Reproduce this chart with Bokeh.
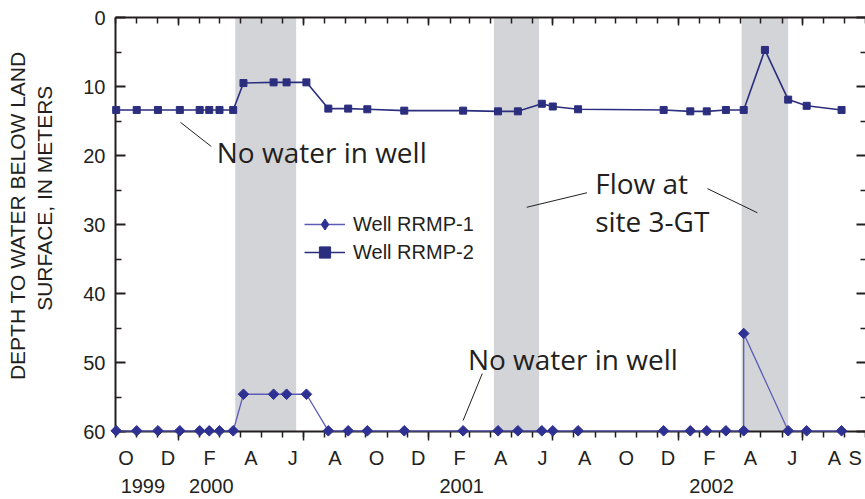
import math
import pandas as pd
from bokeh.plotting import figure
from bokeh.models import Range1d, LinearAxis, FixedTicker, Legend, LegendItem, Label
from bokeh.embed import file_html
from bokeh.resources import INLINE

# --- data -------------------------------------------------------------
dates_rrmp2 = ["1999-10-02", "1999-11-01", "1999-12-02", "2000-01-03", "2000-02-01",
               "2000-02-15", "2000-03-01", "2000-03-21", "2000-04-05", "2000-05-19",
               "2000-06-07", "2000-07-06", "2000-08-07", "2000-09-05", "2000-10-03",
               "2000-11-26", "2001-02-20", "2001-04-12", "2001-05-11", "2001-06-15",
               "2001-07-01", "2001-08-07", "2001-12-10", "2002-01-18", "2002-02-11",
               "2002-03-11", "2002-04-06", "2002-05-07", "2002-06-10", "2002-07-07",
               "2002-08-27"]
depth_rrmp2 = [13.4, 13.4, 13.4, 13.4, 13.4, 13.4, 13.4, 13.4, 9.5, 9.4,
               9.4, 9.4, 13.2, 13.2, 13.3, 13.5, 13.5, 13.6, 13.6, 12.5,
               12.9, 13.3, 13.4, 13.6, 13.6, 13.4, 13.4, 4.7, 11.9, 12.8,
               13.4]

dates_rrmp1 = ["1999-10-02", "1999-11-01", "1999-12-02", "2000-01-03", "2000-02-01",
               "2000-02-15", "2000-03-01", "2000-03-21", "2000-04-05", "2000-05-19",
               "2000-06-07", "2000-07-06", "2000-08-07", "2000-09-05", "2000-10-03",
               "2000-11-26", "2001-02-20", "2001-04-12", "2001-05-11", "2001-06-15",
               "2001-07-01", "2001-08-07", "2001-12-10", "2002-01-18", "2002-02-11",
               "2002-03-11", "2002-04-06", "2002-04-06", "2002-06-10", "2002-07-07",
               "2002-08-27"]
depth_rrmp1 = [59.9, 59.9, 59.9, 59.9, 59.9, 59.9, 59.9, 59.9, 54.6, 54.6,
               54.6, 54.6, 59.9, 59.9, 59.9, 59.9, 59.9, 59.9, 59.9, 59.9,
               59.9, 59.9, 59.9, 59.9, 59.9, 59.9, 59.9, 45.8, 59.9, 59.9,
               59.9]

# periods of flow at site 3-GT
flow_start = ["2000-03-24", "2001-04-06", "2002-04-03"]
flow_end = ["2000-06-21", "2001-06-11", "2002-06-10"]

# axis labels
month_label_months = ["1999-10", "1999-12", "2000-02", "2000-04", "2000-06", "2000-08",
                      "2000-10", "2000-12", "2001-02", "2001-04", "2001-06", "2001-08",
                      "2001-10", "2001-12", "2002-02", "2002-04", "2002-06", "2002-08",
                      "2002-09"]
month_letters = ["O", "D", "F", "A", "J", "A", "O", "D", "F", "A", "J", "A",
                 "O", "D", "F", "A", "J", "A", "S"]
year_label_dates = ["1999-11-10", "2000-02-18", "2001-02-18", "2002-02-18"]
year_labels = ["1999", "2000", "2001", "2002"]
depth_ticks = [0, 10, 20, 30, 40, 50, 60]
depth_minor = [5, 15, 25, 35, 45, 55]
depth_title = ["DEPTH TO WATER BELOW LAND", "SURFACE, IN METERS"]


def ms(d):
    return pd.Timestamp(d).value / 1e6


INK = "#231f20"
NAVY = "#2b2e7e"
BLUE = "#2e3192"
BLUE_LINE = "#5c5cb8"
BAND = "#d3d4d7"

x0, x1 = ms("1999-10-01"), ms("2002-10-01")
month_starts = [ms(d) for d in pd.date_range("1999-10-01", "2002-10-01", freq="MS")]
half_year = [ms(d) for d in pd.date_range("1999-10-01", "2002-10-01", freq="MS")
             if pd.Timestamp(d).month in (1, 7)]

p = figure(width=865, height=499, x_range=Range1d(x0, x1), y_range=Range1d(60, 0),
           x_axis_type=None, y_axis_type=None, output_backend="svg",
           toolbar_location=None, min_border_left=115, min_border_right=0,
           min_border_top=17, min_border_bottom=68)
p.outline_line_color = None
p.background_fill_color = "white"
p.border_fill_color = "white"

# shaded flow periods
p.quad(left=[ms(d) for d in flow_start], right=[ms(d) for d in flow_end],
       bottom=60, top=0, fill_color=BAND, line_color=None)

# leader lines for the notes
p.segment(x0=[ms("2000-01-04"), ms("2001-03-20"), ms("2001-05-24"), ms("2002-02-12")],
          y0=[15.2, 51.6, 27.5, 24.8],
          x1=[ms("2000-02-18"), ms("2001-02-20"), ms("2001-08-20"), ms("2002-04-26")],
          y1=[18.7, 58.4, 25.4, 28.3],
          line_color=INK, line_width=1)

# wells
x1w = [ms(d) for d in dates_rrmp1]
x2w = [ms(d) for d in dates_rrmp2]
l1 = p.line(x1w, depth_rrmp1, line_color=BLUE_LINE, line_width=1.3, level="annotation")
m1 = p.scatter(x1w, depth_rrmp1, marker="square", angle=math.pi / 4, size=7.5,
               fill_color=BLUE, line_color=BLUE, level="annotation")
l2 = p.line(x2w, depth_rrmp2, line_color=NAVY, line_width=1.6, level="annotation")
m2 = p.scatter(x2w, depth_rrmp2, marker="square", size=7,
               fill_color=NAVY, line_color=NAVY, level="annotation")
# diamond swatch for the legend entry (angles are not applied to legend swatches)
k1 = p.scatter(x=[float("nan")], y=[float("nan")], marker="diamond", size=12,
               fill_color=BLUE, line_color=BLUE)

# axes
font = "Liberation Sans"
# the two title lines sit slightly above the middle of the axis; non-breaking
# spaces in front of each line nudge it upward
NB = "\u00a0"
title_text = NB * 3 + depth_title[0] + "\n" + NB * 9 + depth_title[1]

yticker = FixedTicker(ticks=depth_ticks, minor_ticks=depth_minor)
yl = LinearAxis(ticker=yticker, axis_label=title_text,
                major_tick_in=10, major_tick_out=0, minor_tick_in=6, minor_tick_out=0,
                axis_line_width=2, major_tick_line_width=2, minor_tick_line_width=1.5,
                axis_line_color=INK, major_tick_line_color=INK, minor_tick_line_color=INK,
                major_label_text_font=font, major_label_text_font_size="20px",
                major_label_text_color=INK, major_label_standoff=10,
                axis_label_text_font=font, axis_label_text_font_size="21px",
                axis_label_text_font_style="normal", axis_label_text_color=INK,
                axis_label_standoff=24)
p.add_layout(yl, "left")

no_labels = dict(major_label_text_font_size="0px", major_label_text_color=None,
                 major_label_standoff=0)

yr = LinearAxis(ticker=yticker, major_tick_in=9, major_tick_out=0, minor_tick_in=5,
                minor_tick_out=0, axis_line_color=None, major_tick_line_width=2,
                minor_tick_line_width=1.5, major_tick_line_color=INK,
                minor_tick_line_color=INK, **no_labels)
p.add_layout(yr, "right")

xticker = FixedTicker(ticks=half_year, minor_ticks=month_starts)
xt = LinearAxis(ticker=xticker, major_tick_in=8, major_tick_out=0, minor_tick_in=6,
                minor_tick_out=0, axis_line_width=2, axis_line_color=INK,
                major_tick_line_width=1.5, minor_tick_line_width=1.5,
                major_tick_line_color=INK, minor_tick_line_color=INK, **no_labels)
p.add_layout(xt, "above")

xb = LinearAxis(ticker=xticker, major_tick_in=0, major_tick_out=9, minor_tick_in=0,
                minor_tick_out=6, axis_line_width=2, axis_line_color=INK,
                major_tick_line_width=1.5, minor_tick_line_width=1.5,
                major_tick_line_color=INK, minor_tick_line_color=INK, **no_labels)
p.add_layout(xb, "below")

# month letters centred within each month
mid = []
for m in month_label_months:
    a = pd.Timestamp(m + "-01")
    b = a + pd.offsets.MonthBegin(1)
    mid.append(ms(a + (b - a) / 2))
xm = LinearAxis(ticker=FixedTicker(ticks=mid, minor_ticks=[]),
                major_label_overrides={t: s for t, s in zip(mid, month_letters)},
                axis_line_color=None, major_tick_line_color=None,
                major_tick_in=0, major_tick_out=0,
                major_label_text_font=font, major_label_text_font_size="20px",
                major_label_text_color=INK, major_label_standoff=6)
p.add_layout(xm, "below")

yrs = [ms(d) for d in year_label_dates]
xy = LinearAxis(ticker=FixedTicker(ticks=yrs, minor_ticks=[]),
                major_label_overrides={t: s for t, s in zip(yrs, year_labels)},
                axis_line_color=None, major_tick_line_color=None,
                major_tick_in=0, major_tick_out=0,
                major_label_text_font=font, major_label_text_font_size="20px",
                major_label_text_color=INK, major_label_standoff=7)
p.add_layout(xy, "below")

# notes
note = dict(text_font="Open Sans", text_font_size="28px", text_color=INK,
            text_baseline="alphabetic", text_align="left")
p.add_layout(Label(x=ms("2000-02-26"), y=19.55, text="No water in well", **note))
p.add_layout(Label(x=ms("2001-02-27"), y=49.45, text="No water in well", **note))
p.add_layout(Label(x=ms("2001-09-01"), y=23.95, text="Flow at", **note))
p.add_layout(Label(x=ms("2001-09-01"), y=29.45, text="site 3-GT", **note))

legend = Legend(items=[LegendItem(label="Well RRMP-1", renderers=[l1, k1]),
                       LegendItem(label="Well RRMP-2", renderers=[l2, m2])],
                location=(189, 165), background_fill_alpha=0, border_line_color=None,
                label_text_font=font, label_text_font_size="20px",
                label_text_color=INK, glyph_width=41, glyph_height=28,
                label_height=28, label_standoff=8, spacing=0, padding=0, margin=0)
p.add_layout(legend)

open("out.html", "w").write(file_html(p, INLINE))
